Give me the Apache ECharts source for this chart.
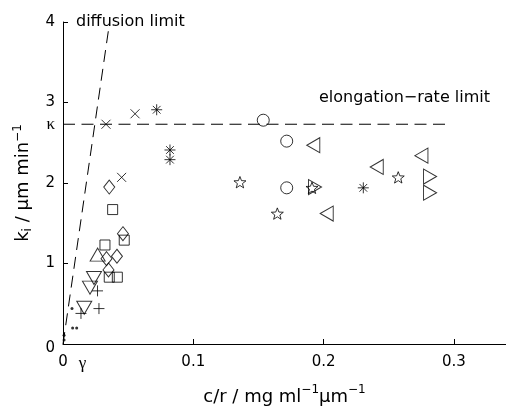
<!DOCTYPE html>
<html><head><meta charset="utf-8">
<script src="https://cdn.jsdelivr.net/npm/echarts@6/dist/echarts.min.js"></script>
<style>html,body{margin:0;padding:0;background:#fff}#c{width:506px;height:411px}</style>
</head><body><div id="c"></div>
<script>
// ---- data (x: c/r, y: k_i) ----
const crossPts    = [[0.0330,2.73],[0.0553,2.86],[0.0450,2.07]];
const asteriskPts = [[0.0719,2.91],[0.0821,2.41],[0.0821,2.29],[0.2305,1.94]];
const circlePts   = [[0.1537,2.78],[0.1717,2.52],[0.1717,1.94]];
const leftTriPts  = [[0.1921,2.47],[0.2024,1.62],[0.2408,2.20],[0.2751,2.34]];
const rightTriPts = [[0.2817,2.08],[0.2817,1.88],[0.1934,1.95]];
const starPts     = [[0.1358,2.01],[0.1645,1.62],[0.1911,1.94],[0.2573,2.07]];
const diamondPts  = [[0.0355,1.95],[0.0460,1.37],[0.0414,1.09],[0.0334,1.06],[0.0349,0.92]];
const squarePts   = [[0.0381,1.67],[0.0470,1.29],[0.0322,1.23],[0.0355,0.83],[0.0417,0.83]];
const upTriPts    = [[0.0266,1.11]];
const downTriPts  = [[0.0238,0.82],[0.0207,0.70],[0.0163,0.45]];
const plusPts     = [[0.0138,0.38],[0.0276,0.44],[0.0265,0.66]];
const dotPts      = [[0.0074,0.20],[0.0105,0.20],[0.0069,0.44],[0.0008,0.05],[0.0008,0.11]];
const diffusionLine = [[0,0],[0.0349,3.90]];
const kappa = 2.73;
const gammaVal = 0.015;
const elongationLine = [[0,kappa],[0.295,kappa]];
const yTicks = [0,1,2,3,4];
const xTicks = [0.1,0.2,0.3];

function starPath(){
  let s='path://';
  for(let k=0;k<10;k++){
    const r = k%2 ? 2.1 : 5;
    const a = (-90+k*36)*Math.PI/180;
    s += (k?'L':'M') + (5+r*Math.cos(a)).toFixed(3) + ',' + (5+r*Math.sin(a)).toFixed(3);
  }
  return s+'Z';
}
const open = {color:'rgba(0,0,0,0)', borderColor:'#000', borderWidth:1};
function sc(data, symbol, size, rot, style){
  return {type:'scatter', data:data, symbol:symbol, symbolSize:size, symbolRotate:rot||0,
    symbolKeepAspect:true, itemStyle:style||open, silent:true, z:3};
}
const FONT='DejaVu Sans';
const chart = echarts.init(document.getElementById('c'), null, {renderer:'canvas'});
chart.setOption({
  animation:false,
  backgroundColor:'#fff',
  grid:{left:63, right:0, top:22, bottom:63},
  xAxis:{type:'value', min:0, max:0.34, splitLine:{show:false},
    axisLine:{lineStyle:{color:'#000', width:1}},
    axisTick:{inside:true, length:5, lineStyle:{color:'#000'}, customValues:xTicks},
    axisLabel:{color:'#000', fontFamily:FONT, fontSize:15, margin:11,
      customValues:[0, gammaVal].concat(xTicks),
      formatter:function(v){ if(Math.abs(v-gammaVal)<1e-6) return '{g|γ}'; if(v===0) return '0'; return v.toFixed(1); },
      rich:{g:{fontFamily:'Liberation Serif', fontSize:17, color:'#000'}}},
    name:'{m|c/r / mg ml}{p|−1}{m|µm}{p|−1}', nameLocation:'middle', nameGap:40,
    nameTextStyle:{rich:{m:{fontFamily:FONT, fontSize:18, color:'#000', lineHeight:22, verticalAlign:'bottom'},
      p:{fontFamily:FONT, fontSize:12, color:'#000', lineHeight:12, verticalAlign:'top'}}}
  },
  yAxis:{type:'value', min:0, max:4, splitLine:{show:false},
    axisLine:{lineStyle:{color:'#000', width:1}},
    axisTick:{inside:true, length:5, lineStyle:{color:'#000'}, customValues:yTicks},
    axisLabel:{color:'#000', fontFamily:FONT, fontSize:15, margin:8,
      customValues:yTicks.concat([kappa]),
      formatter:function(v){ if(Math.abs(v-kappa)<1e-6) return '{k|κ}'; if(v===0) return '{z|0}'; return String(v); },
      rich:{k:{fontFamily:'Liberation Serif', fontSize:17, color:'#000'},
            z:{fontFamily:FONT, fontSize:15, color:'#000', padding:[8,0,0,0]}}},
    name:'{m|k}{s|i}{m| / µm min}{p|−1}', nameLocation:'middle', nameGap:29, nameRotate:90,
    nameTextStyle:{rich:{m:{fontFamily:FONT, fontSize:18, color:'#000', lineHeight:22, verticalAlign:'middle'},
      s:{fontFamily:FONT, fontSize:12, color:'#000', lineHeight:12, verticalAlign:'bottom'},
      p:{fontFamily:FONT, fontSize:12, color:'#000', lineHeight:12, verticalAlign:'top'}}}
  },
  graphic:[
    {type:'text', left:76, top:14, style:{text:'diffusion limit', fontFamily:FONT, fontSize:16, fill:'#000'}},
    {type:'text', left:319, top:90, style:{text:'elongation−rate limit', fontFamily:FONT, fontSize:16, fill:'#000'}}
  ],
  series:[
    {type:'line', data:diffusionLine, showSymbol:false, silent:true, lineStyle:{color:'#000', width:1, type:[12,7]}, z:2},
    {type:'line', data:elongationLine, showSymbol:false, silent:true, lineStyle:{color:'#000', width:1, type:[12,6.5]}, z:2},
    sc(crossPts, 'path://M0,0L10,10M10,0L0,10', 9),
    sc(asteriskPts, 'path://M5,0L5,10M0,5L10,5M1.5,1.5L8.5,8.5M8.5,1.5L1.5,8.5', 11),
    sc(circlePts, 'circle', 12),
    sc(leftTriPts, 'triangle', [15,13], 90),
    sc(rightTriPts, 'triangle', [15,13], -90),
    sc(starPts, starPath(), 12),
    sc(diamondPts, 'diamond', [11,14]),
    sc(squarePts, 'rect', 10),
    sc(upTriPts, 'triangle', [15,13], 0),
    sc(downTriPts, 'triangle', [15,13], 180),
    sc(plusPts, 'path://M5,0L5,10M0,5L10,5', 11),
    sc(dotPts, 'circle', 3, 0, {color:'#000'})
  ]
});
</script></body></html>
